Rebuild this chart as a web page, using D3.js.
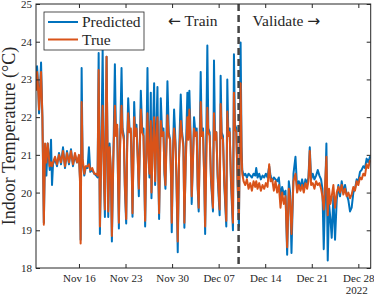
<!DOCTYPE html>
<html>
<head>
<meta charset="utf-8">
<script src="https://d3js.org/d3.v7.min.js"></script>
<style>
body { margin: 0; background: #fff; }
svg { display: block; font-family: "Liberation Serif", "DejaVu Serif", serif; }
</style>
</head>
<body>
<svg id="chart"></svg>
<script>
// time of each sample, in days since 2022-11-09 00:00
const days = [
  0.55, 0.7, 0.85, 1.0, 1.15, 1.3, 1.5, 1.72, 1.9, 2.1, 2.3, 2.6, 2.8, 2.95, 3.1, 3.4, 3.7, 4.0, 4.3, 4.6,
  4.9, 5.2, 5.5, 5.8, 6.1, 6.4, 6.7, 7.0, 7.15, 7.25, 7.4, 7.55, 7.8, 8.0, 8.3, 8.5, 8.7, 9.0, 9.3, 9.6, 9.8,
  9.96, 10.15, 10.35, 10.56, 10.75, 10.9, 11.15, 11.4, 11.6, 11.8, 11.95,
  12.15, 12.4, 12.55, 12.75, 12.88, 13.0,
  13.15, 13.4, 13.55, 13.75, 13.9, 14.1,
  14.25, 14.4, 14.6, 14.8, 14.95, 15.05,
  15.3, 15.45, 15.65, 15.85, 16.0,
  16.3, 16.5, 16.7, 16.85, 16.95,
  17.15, 17.3, 17.45, 17.6, 17.8, 17.9,
  18.05, 18.3, 18.45, 18.6, 18.8, 18.95, 19.05,
  19.3, 19.5, 19.7, 19.85, 20.0,
  20.3, 20.5, 20.7, 20.85, 20.95,
  21.15, 21.3, 21.5, 21.65, 21.85,
  22.05, 22.3, 22.5, 22.7, 22.85,
  23.05, 23.3, 23.45, 23.6, 23.8, 23.95,
  24.15, 24.3, 24.5, 24.7, 24.85, 25.0,
  25.3, 25.45, 25.65, 25.85, 25.97,
  26.3, 26.45, 26.65, 26.85, 27.15,
  27.3, 27.45, 27.65, 27.85, 28.15,
  28.3, 28.45, 28.65, 28.85, 29.15,
  29.3, 29.45, 29.65, 29.85, 30.15,
  30.3, 30.45, 30.65, 30.85, 31.05,
  31.3, 31.45,
  31.55, 31.75, 32.0, 32.25, 32.5, 32.75, 33.0, 33.25, 33.5, 33.65, 33.85,
  34.1, 34.35, 34.6, 34.85, 35.1, 35.35, 35.6, 35.8,
  36.05, 36.3, 36.55, 36.8, 37.05, 37.3, 37.55, 37.8, 38.05,
  38.3, 38.55, 38.75, 38.95, 39.25, 39.55, 39.8,
  40.05, 40.3, 40.55, 40.8, 41.05, 41.3, 41.5, 41.7, 41.9,
  42.15, 42.4, 42.65, 42.9, 43.15, 43.4, 43.6, 43.8,
  44.0, 44.2, 44.4, 44.6, 44.8, 45.0, 45.25, 45.5, 45.75,
  46.0, 46.25, 46.5, 46.75, 47.0, 47.25, 47.5, 47.75, 48.0,
  48.25, 48.5, 48.75, 49.0, 49.25, 49.5, 49.75, 50.0, 50.25, 50.5, 50.75, 50.86
];

const predicted = [
  22.8, 23.35, 22.9, 22.1, 22.75, 23.45, 22.0, 19.2, 21.2, 20.45, 21.3, 20.6, 21.4, 20.2, 20.75, 20.9, 20.7, 21.05, 20.75, 21.2,
  20.65, 21.1, 20.75, 21.15, 20.7, 21.0, 20.8, 20.95, 20.4, 18.75, 23.3, 20.8, 20.45, 20.65, 20.65, 21.2, 20.55, 20.6, 20.5, 20.45, 20.4,
  23.7, 18.9, 21.1, 23.78, 20.4, 19.35, 23.6, 19.35, 21.3, 20.5, 18.7,
  20.7, 23.4, 21.6, 21.7, 20.2, 19.05,
  21.1, 23.3, 21.7, 21.5, 20.1, 19.18,
  21.4, 22.5, 21.7, 21.6, 20.4, 19.36,
  22.4, 21.6, 21.8, 20.9, 19.9,
  22.7, 21.7, 21.7, 20.1, 19.1,
  21.4, 23.3, 21.1, 20.4, 22.65, 19.85,
  21.1, 22.9, 20.2, 21.4, 22.8, 20.3, 19.3,
  22.5, 21.6, 21.7, 20.5, 20.1,
  22.95, 21.6, 21.4, 20.3, 18.95,
  21.2, 22.2, 21.4, 20.4, 18.42,
  21.0, 22.6, 21.6, 21.3, 19.07,
  20.9, 22.65, 21.5, 22.7, 21.4, 19.7,
  21.0, 22.0, 21.6, 21.7, 20.1, 19.5,
  23.2, 21.6, 21.7, 20.2, 18.9,
  23.9, 21.7, 21.6, 20.3, 19.5,
  23.5, 21.5, 21.6, 20.4, 19.4,
  23.1, 21.6, 21.5, 20.2, 19.1,
  23.0, 21.6, 21.7, 20.3, 19.0,
  23.67, 21.8, 21.7, 20.2, 19.1,
  23.98, 21.2,
  20.6, 20.45, 20.5, 20.4, 20.5, 20.45, 20.4, 20.5, 20.45, 20.65, 20.4,
  20.5, 20.35, 20.45, 20.4, 20.5, 20.4, 20.7, 20.45,
  20.3, 20.4, 20.35, 20.3, 20.4, 19.9, 20.15, 19.95, 20.05,
  18.35, 20.3, 20.0, 18.4, 20.5, 20.95, 20.1,
  20.3, 20.15, 20.35, 20.1, 20.35, 20.25, 20.4, 21.2, 20.35,
  20.5, 20.35, 20.45, 20.6, 20.45, 20.35, 20.1, 18.5,
  19.9, 21.3, 18.2, 19.7, 19.3, 18.8, 19.9, 18.75, 19.8,
  20.2, 19.9, 20.3, 20.0, 20.2, 19.95, 19.8, 19.5, 19.6,
  20.0, 20.1, 20.35, 20.3, 20.55, 20.6, 20.7, 20.65, 20.9, 20.8, 20.95, 20.9
];

const actual = [
  22.7, 23.2, 22.8, 22.2, 22.7, 23.2, 22.0, 19.15, 21.3, 20.8, 21.3, 20.7, 20.8, 20.7, 20.8, 20.95, 20.75, 21.0, 20.8, 21.1,
  20.7, 21.05, 20.8, 21.1, 20.75, 21.05, 20.8, 21.0, 20.3, 18.65, 22.4, 20.9, 20.5, 20.7, 20.7, 20.75, 20.6, 20.65, 20.5, 20.5, 20.45,
  23.25, 19.1, 21.0, 22.3, 20.5, 19.55, 23.6, 19.5, 21.2, 20.6, 18.85,
  20.8, 22.3, 21.5, 21.8, 20.3, 19.2,
  21.0, 22.3, 21.6, 21.4, 20.2, 19.3,
  21.2, 22.1, 21.6, 21.7, 20.5, 19.45,
  22.0, 21.5, 21.7, 20.8, 20.1,
  22.2, 21.6, 21.5, 20.2, 19.25,
  21.3, 22.1, 21.0, 20.5, 21.9, 20.0,
  21.0, 22.0, 20.3, 21.3, 22.0, 20.4, 19.45,
  21.9, 21.5, 21.6, 20.6, 20.2,
  22.05, 21.5, 21.4, 20.4, 19.2,
  21.1, 21.7, 21.3, 20.5, 18.7,
  20.9, 21.9, 21.5, 21.2, 19.2,
  20.8, 22.0, 21.4, 22.2, 21.3, 19.9,
  20.9, 21.7, 21.5, 21.6, 20.2, 19.6,
  22.4, 21.5, 21.6, 20.3, 19.1,
  22.25, 21.6, 21.5, 20.4, 19.6,
  22.1, 21.4, 21.6, 20.5, 19.55,
  22.35, 21.5, 21.4, 20.3, 19.25,
  22.15, 21.5, 21.6, 20.4, 19.2,
  22.65, 21.7, 21.6, 20.3, 19.3,
  22.9, 21.0,
  20.5, 20.3, 20.2, 20.35, 20.1, 20.25, 20.05, 20.3, 20.15, 20.3, 20.1,
  20.25, 20.05, 20.2, 20.1, 20.25, 20.15, 20.75, 20.3,
  20.35, 20.05, 20.3, 20.0, 20.2, 19.6, 20.0, 19.7, 19.9,
  18.55, 20.1, 19.8, 18.9, 20.3, 20.5, 20.0,
  20.2, 20.05, 20.2, 20.0, 20.25, 20.1, 20.3, 21.1, 20.2,
  20.25, 20.1, 20.3, 20.2, 20.25, 20.1, 19.9, 19.55,
  20.2, 20.95, 19.4, 20.1, 19.7, 19.9, 20.2, 19.6, 20.0,
  20.15, 20.0, 20.2, 19.95, 20.1, 19.9, 20.0, 19.85, 19.95,
  20.15, 20.05, 20.3, 20.2, 20.4, 20.35, 20.5, 20.45, 20.75, 20.65, 20.85, 20.8
];

const xTickDays = [7, 14, 21, 28, 35, 42, 49];   // Nov 16 ... Dec 28
const yTicks = [18, 19, 20, 21, 22, 23, 24, 25];
const splitDay = 31;                              // Dec 10, train / validate
const seriesNames = ["Predicted", "True"];

(function() {
  const width = 374, height = 295;
  const left = 36, right = 370.7, top = 4, bottom = 268;
  const axisColor = "#262626";
  const blue = "#0072BD", orange = "#D95319";

  const start = new Date(2022, 10, 9);
  const toDate = d => new Date(start.getTime() + d * 864e5);

  const x = d3.scaleTime()
      .domain([toDate(0.54), toDate(50.86)])
      .range([left, right]);
  const y = d3.scaleLinear()
      .domain([18, 25])
      .range([bottom, top]);

  const svg = d3.select("#chart")
      .attr("width", width)
      .attr("height", height);

  svg.append("clipPath").attr("id", "plotclip")
    .append("rect")
      .attr("x", left).attr("y", top)
      .attr("width", right - left).attr("height", bottom - top);

  const rows = days.map((d, i) => ({ t: toDate(d), p: predicted[i], a: actual[i] }));

  const line = key => d3.line()
      .x(d => x(d.t))
      .y(d => y(d[key]));

  const plot = svg.append("g").attr("clip-path", "url(#plotclip)");
  plot.append("path").datum(rows)
      .attr("d", line("p"))
      .attr("fill", "none").attr("stroke", blue)
      .attr("stroke-width", 2).attr("stroke-linejoin", "round");
  plot.append("path").datum(rows)
      .attr("d", line("a"))
      .attr("fill", "none").attr("stroke", orange)
      .attr("stroke-width", 2).attr("stroke-linejoin", "round");

  // train / validate split
  const xs = x(toDate(splitDay));
  svg.append("line")
      .attr("x1", xs).attr("x2", xs)
      .attr("y1", top).attr("y2", bottom)
      .attr("stroke", "#444").attr("stroke-width", 2.5)
      .attr("stroke-dasharray", "7,4");

  // axes, ticks pointing inward
  const tickVals = xTickDays.map(toDate);
  const fmt = d3.timeFormat("%b %d");

  const gx = svg.append("g")
      .attr("transform", `translate(0,${bottom})`)
      .call(d3.axisBottom(x).tickValues(tickVals).tickFormat(fmt)
        .tickSizeInner(-4).tickSizeOuter(0).tickPadding(6));
  const gxt = svg.append("g")
      .attr("transform", `translate(0,${top})`)
      .call(d3.axisTop(x).tickValues(tickVals).tickFormat("")
        .tickSizeInner(-4).tickSizeOuter(0));
  const gy = svg.append("g")
      .attr("transform", `translate(${left},0)`)
      .call(d3.axisLeft(y).tickValues(yTicks).tickFormat(d3.format("d"))
        .tickSizeInner(-4).tickSizeOuter(0).tickPadding(4));
  const gyr = svg.append("g")
      .attr("transform", `translate(${right},0)`)
      .call(d3.axisRight(y).tickValues(yTicks).tickFormat("")
        .tickSizeInner(-4).tickSizeOuter(0));

  [gx, gxt, gy, gyr].forEach(g => {
    g.select(".domain").remove();
    g.selectAll(".tick line").attr("stroke", axisColor);
    g.selectAll(".tick text")
      .attr("fill", axisColor)
      .style("font-family", "'Liberation Serif', serif")
      .style("font-size", "11px");
  });

  svg.append("rect")
      .attr("x", left).attr("y", top)
      .attr("width", right - left).attr("height", bottom - top)
      .attr("fill", "none").attr("stroke", axisColor).attr("stroke-width", 1);

  svg.append("text")
      .attr("x", right - 3).attr("y", 293.5)
      .attr("text-anchor", "end")
      .attr("fill", axisColor)
      .style("font-size", "11px")
      .text("2022");

  svg.append("text")
      .attr("transform", `translate(15,${(top + bottom) / 2}) rotate(-90)`)
      .attr("text-anchor", "middle")
      .attr("fill", axisColor)
      .style("font-size", "18px")
      .text("Indoor Temperature (°C)");

  // train / validate labels, arrows from a font with wider arrow glyphs
  const arrowFont = "'DejaVu Sans', sans-serif";
  const tTrain = svg.append("text")
      .attr("x", xs - 21).attr("y", 26)
      .attr("text-anchor", "end")
      .attr("fill", axisColor)
      .style("font-size", "15.5px");
  tTrain.append("tspan").style("font-family", arrowFont).text("←");
  tTrain.append("tspan").text(" Train");

  const tVal = svg.append("text")
      .attr("x", xs + 14).attr("y", 26)
      .attr("fill", axisColor)
      .style("font-size", "15.5px");
  tVal.append("tspan").text("Validate ");
  tVal.append("tspan").style("font-family", arrowFont).text("→");

  // legend
  const lg = svg.append("g");
  lg.append("rect")
      .attr("x", 44).attr("y", 12).attr("width", 100).attr("height", 38)
      .attr("fill", "#fff").attr("stroke", axisColor).attr("stroke-width", 0.8);
  [blue, orange].forEach((c, i) => {
    const yy = 22 + i * 17.5;
    lg.append("line")
        .attr("x1", 48).attr("x2", 78).attr("y1", yy).attr("y2", yy)
        .attr("stroke", c).attr("stroke-width", 2);
    lg.append("text")
        .attr("x", 82).attr("y", yy + 5)
        .attr("fill", axisColor)
        .style("font-size", "15.5px")
        .text(seriesNames[i]);
  });
})();
</script>
</body>
</html>
